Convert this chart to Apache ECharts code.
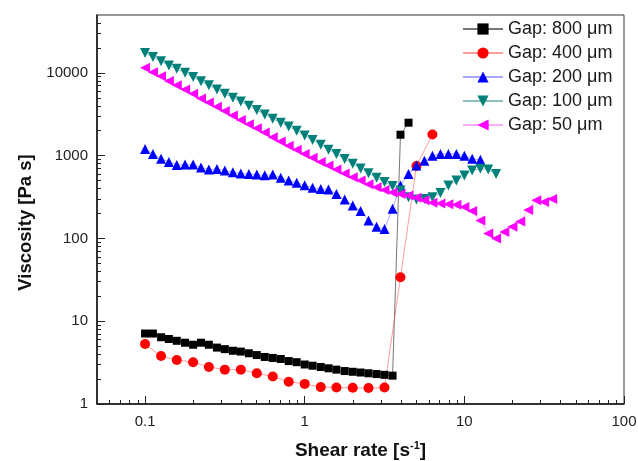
<!DOCTYPE html>
<html>
<head>
<meta charset="utf-8">
<script src="https://cdn.jsdelivr.net/npm/echarts@6/dist/echarts.min.js"></script>
<style>
  html, body { margin: 0; padding: 0; background: #fff; }
  #chart-wrapper { width: 638px; height: 461px; }
</style>
</head>
<body>
<div id="chart-wrapper"></div>
<script>
// shear rates, 20 points per decade
const rates = [0.1, 0.112, 0.126, 0.141, 0.158, 0.178, 0.2, 0.224, 0.251, 0.282,
  0.316, 0.355, 0.398, 0.447, 0.501, 0.562, 0.631, 0.708, 0.794, 0.891,
  1, 1.12, 1.26, 1.41, 1.58, 1.78, 2, 2.24, 2.51, 2.82,
  3.16, 3.55, 3.98, 4.47, 5.01, 5.62, 6.31, 7.08, 7.94, 8.91,
  10, 11.2, 12.6, 14.1, 15.8, 17.8, 20, 22.4, 25.1, 28.2, 31.6, 35.5];
// 400 um series was measured with 10 points per decade
const ratesRed = [0.1, 0.126, 0.158, 0.2, 0.251, 0.316, 0.398, 0.501, 0.631, 0.794,
  1, 1.26, 1.58, 2, 2.51, 3.16, 3.98, 5.01, 6.31];

const gap800 = [7.1, 7.1, 6.4, 6.1, 5.8, 5.5, 5.2, 5.5, 5.2, 4.8, 4.6, 4.4, 4.3, 4.1, 3.9,
  3.7, 3.6, 3.5, 3.3, 3.2, 3.0, 2.9, 2.8, 2.7, 2.6, 2.5, 2.45, 2.4, 2.35, 2.3, 2.25, 2.2,
  1790, 2500];
const gap400 = [5.3, 3.8, 3.4, 3.2, 2.8, 2.6, 2.6, 2.35, 2.15, 1.86, 1.75, 1.6, 1.58, 1.57,
  1.56, 1.58, 34, 750, 1800];
const gap200 = [1200, 1050, 920, 840, 770, 780, 780, 720, 680, 690, 660, 630, 610, 600, 590,
  580, 590, 540, 500, 470, 440, 410, 395, 390, 345, 295, 250, 215, 165, 138, 130, 228,
  436, 600, 760, 870, 1000, 1050, 1050, 1050, 1000, 920, 890];
const gap100 = [17400, 15500, 13800, 12300, 11200, 10000, 8900, 7900, 7100, 6300, 5600, 5000,
  4500, 4000, 3550, 3150, 2800, 2500, 2250, 2000, 1750, 1550, 1350, 1180, 1050, 910, 800,
  700, 615, 540, 480, 430, 380, 315, 295, 300, 315, 355, 435, 500, 575, 660, 695, 680, 600];
const gap50 = [11500, 10200, 9100, 8000, 7100, 6300, 5600, 4900, 4400, 3900, 3450, 3050,
  2700, 2400, 2150, 1900, 1670, 1480, 1320, 1180, 1050, 940, 840, 760, 680, 610, 550, 500,
  450, 415, 385, 360, 345, 330, 310, 290, 270, 265, 258, 255, 240, 215, 165, 115, 100, 120,
  138, 160, 220, 290, 275, 300];

const xMajor = [0.1, 1, 10, 100];
const xMinor = [0.06, 0.07, 0.08, 0.09, 0.2, 0.3, 0.4, 0.5, 0.6, 0.7, 0.8, 0.9,
  2, 3, 4, 5, 6, 7, 8, 9, 20, 30, 40, 50, 60, 70, 80, 90];
const yMajor = [1, 10, 100, 1000, 10000];
const yMinor = [2, 3, 4, 5, 6, 7, 8, 9, 20, 30, 40, 50, 60, 70, 80, 90,
  200, 300, 400, 500, 600, 700, 800, 900, 2000, 3000, 4000, 5000, 6000, 7000, 8000, 9000,
  20000, 30000, 40000];

const pair = (xs, ys) => ys.map((y, i) => [xs[i], y]);

let chart;

const makeSeries = (name, xs, ys, symbol, size, color, lineColor, rotate) => {
  return {
    name: name,
    type: "line",
    data: pair(xs, ys),
    symbol: symbol,
    symbolSize: size,
    symbolRotate: rotate || 0,
    showSymbol: true,
    itemStyle: { color: color },
    lineStyle: { color: lineColor, width: 1 },
    emphasis: { disabled: true },
    animation: false,
  };
};

const init_handler = () => {
  const chartDom = document.getElementById("chart-wrapper");
  chart = echarts.init(chartDom, null, { renderer: "canvas" });

  const font = "Liberation Sans, Arial, sans-serif";
  const option = {
    backgroundColor: "#fff",
    animation: false,
    textStyle: { fontFamily: font },
    grid: {
      left: 97,
      right: 14,
      top: 15,
      bottom: 57,
      outerBoundsMode: "none",
      containLabel: false,
      show: true,
      borderColor: "#333",
      borderWidth: 1,
    },
    legend: {
      orient: "vertical",
      left: 457,
      top: 15,
      itemWidth: 40,
      itemHeight: 14,
      itemGap: 6,
      textStyle: { fontSize: 18, color: "#1a1a1a", fontFamily: font },
      data: ["Gap: 800 μm", "Gap: 400 μm", "Gap: 200 μm", "Gap: 100 μm", "Gap: 50 μm"],
    },
    xAxis: [
      {
        type: "log",
        logBase: 10,
        min: 0.05,
        max: 100,
        position: "bottom",
        name: "Shear rate [s{sup|-1}]",
        nameLocation: "middle",
        nameGap: 36,
        nameTextStyle: {
          fontSize: 19,
          fontWeight: "bold",
          color: "#111",
          rich: {
            sup: { fontSize: 11, fontWeight: "bold", color: "#111", padding: [0, 0, 11, 0] },
          },
        },
        axisLine: { lineStyle: { color: "#111", width: 1.5 } },
        axisTick: { inside: true, length: 8, customValues: xMajor, lineStyle: { color: "#222" } },
        axisLabel: {
          customValues: xMajor,
          margin: 10,
          fontSize: 15,
          color: "#222",
          formatter: (v) => String(v),
        },
        splitLine: { show: false },
      },
      {
        type: "log",
        logBase: 10,
        min: 0.05,
        max: 100,
        position: "bottom",
        axisLine: { show: false },
        axisTick: { inside: true, length: 4, customValues: xMinor, lineStyle: { color: "#222" } },
        axisLabel: { show: false },
        splitLine: { show: false },
      },
    ],
    yAxis: [
      {
        type: "log",
        logBase: 10,
        min: 1,
        max: 50000,
        position: "left",
        name: "Viscosity [Pa s]",
        nameLocation: "middle",
        nameGap: 60,
        nameTextStyle: { fontSize: 18.5, fontWeight: "bold", color: "#111", padding: [0, 26, 0, 0] },
        axisLine: { lineStyle: { color: "#111", width: 1.5 } },
        axisTick: { inside: true, length: 8, customValues: yMajor, lineStyle: { color: "#222" } },
        axisLabel: {
          customValues: yMajor,
          margin: 9,
          fontSize: 15,
          color: "#222",
          formatter: (v) => String(v),
        },
        splitLine: { show: false },
      },
      {
        type: "log",
        logBase: 10,
        min: 1,
        max: 50000,
        position: "left",
        axisLine: { show: false },
        axisTick: { inside: true, length: 4, customValues: yMinor, lineStyle: { color: "#222" } },
        axisLabel: { show: false },
        splitLine: { show: false },
      },
    ],
    series: [
      makeSeries("Gap: 800 μm", rates, gap800, "rect", 8, "#000000", "rgba(60,60,60,0.7)"),
      makeSeries("Gap: 400 μm", ratesRed, gap400, "circle", 10, "#ff0000", "rgba(255,90,90,0.6)"),
      makeSeries("Gap: 200 μm", rates, gap200, "triangle", 10, "#0000ff", "rgba(110,110,255,0.6)"),
      makeSeries("Gap: 100 μm", rates, gap100, "triangle", 10, "#00807a", "rgba(60,150,145,0.6)", 180),
      makeSeries("Gap: 50 μm", rates, gap50, "triangle", 10, "#ff00ff", "rgba(255,120,255,0.6)", 90),
    ],
  };
  chart.setOption(option);
};

init_handler();
</script>
</body>
</html>
